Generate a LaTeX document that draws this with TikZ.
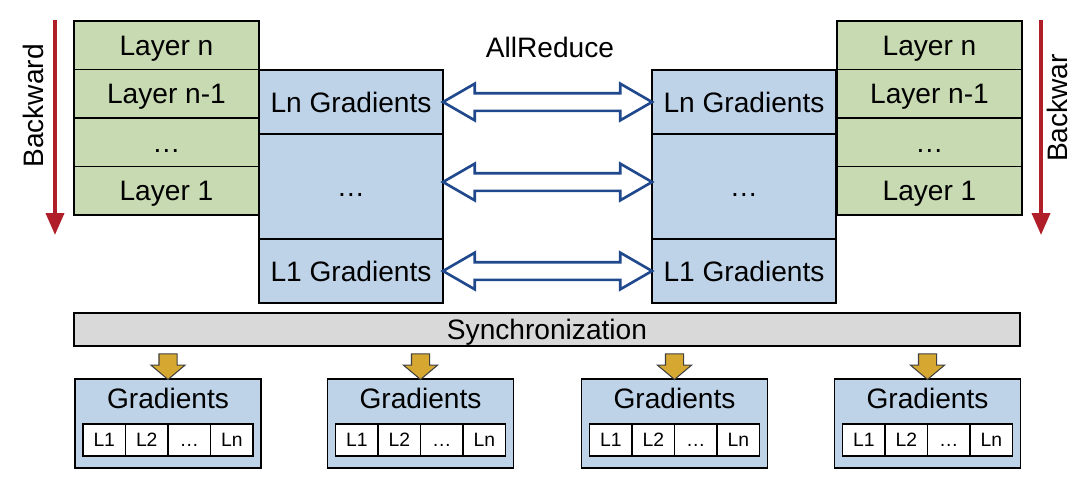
\documentclass[tikz,border=0pt]{standalone}
\usepackage{fontspec}
\setmainfont{Liberation Sans}
\usepackage{xcolor}
\usepackage{tikz}
\usetikzlibrary{shapes.arrows, arrows.meta, positioning, calc}
\definecolor{layergreen}{RGB}{200,218,178}
\definecolor{gradblue}{RGB}{190,211,232}
\definecolor{syncgray}{RGB}{217,217,217}
\definecolor{bwred}{RGB}{176,30,42}
\definecolor{arrowblue}{RGB}{31,73,140}
\definecolor{syncgold}{RGB}{214,168,50}
\tikzstyle{bigtext} = [font=\fontsize{16}{19}\selectfont, text height=11.4pt, text depth=0pt]
\tikzstyle{layer} = [rectangle, draw=black, fill=layergreen, line width=0.8pt, outer sep=0pt, inner sep=0pt, minimum width=3.7cm, minimum height=0.97cm, bigtext]
\tikzstyle{grad} = [rectangle, draw=black, fill=gradblue, line width=0.8pt, outer sep=0pt, inner sep=0pt, minimum width=3.68cm, bigtext]
\tikzstyle{gradbox} = [rectangle, draw=black, fill=gradblue, line width=0.8pt, outer sep=0pt, minimum width=3.72cm, minimum height=1.78cm]
\tikzstyle{cell} = [rectangle, draw=black, fill=white, line width=0.8pt, outer sep=0pt, inner sep=0pt, minimum width=0.85cm, minimum height=0.64cm, font=\fontsize{11}{13}\selectfont, text height=7.9pt, text depth=0pt]
\tikzstyle{syncbar} = [rectangle, draw=black, fill=syncgray, line width=0.8pt, minimum width=18.92cm, minimum height=0.66cm, inner sep=0pt, bigtext]
\tikzstyle{allred} = [double arrow, draw=arrowblue, fill=white, line width=1.5pt, inner sep=0.15cm, double arrow head extend=0.19cm, double arrow tip angle=60, minimum height=4.18cm]
\tikzstyle{syncarrow} = [single arrow, draw=black!75, fill=syncgold, line width=0.6pt, shape border rotate=270, inner sep=0.17cm, single arrow head extend=0.16cm, single arrow tip angle=100, minimum height=0.44cm]
\tikzstyle{bwarrow} = [bwred, line width=2.2pt, -{Triangle[length=0.44cm, width=0.36cm]}]

\begin{document}
\begin{tikzpicture}
\useasboundingbox (0,0) rectangle (21.6,-9.7);

% left worker
\node[layer, anchor=north west] (layernL) at (1.48,-0.42) {Layer n};
\node[layer, below=0pt of layernL] (layernmL) {Layer n-1};
\node[layer, below=0pt of layernmL] (layerdotsL) {…};
\node[layer, below=0pt of layerdotsL] (layeroneL) {Layer 1};

\node[grad, minimum height=1.28cm, anchor=north west] (lngradL) at (5.18,-1.40) {Ln Gradients};
\node[grad, minimum height=2.1cm, below=0pt of lngradL] (dotsgradL) {…};
\node[grad, minimum height=1.28cm, below=0pt of dotsgradL] (l1gradL) {L1 Gradients};

\coordinate (bwtopL) at (1.1,-0.4);
\coordinate (bwbotL) at (1.1,-4.7);
\draw[bwarrow] (bwtopL) -- (bwbotL);
\node[rotate=90, bigtext] (bwlabelL) at (0.66,-2.12) {Backward};

% right worker
\node[grad, minimum height=1.28cm, anchor=north west] (lngradR) at (13.04,-1.40) {Ln Gradients};
\node[grad, minimum height=2.1cm, below=0pt of lngradR] (dotsgradR) {…};
\node[grad, minimum height=1.28cm, below=0pt of dotsgradR] (l1gradR) {L1 Gradients};

\node[layer, anchor=north west] (layernR) at (16.74,-0.42) {Layer n};
\node[layer, below=0pt of layernR] (layernmR) {Layer n-1};
\node[layer, below=0pt of layernmR] (layerdotsR) {…};
\node[layer, below=0pt of layerdotsR] (layeroneR) {Layer 1};

\coordinate (bwtopR) at (20.82,-0.4);
\coordinate (bwbotR) at (20.82,-4.7);
\draw[bwarrow] (bwtopR) -- (bwbotR);
\node[rotate=90, bigtext] (bwlabelR) at (21.14,-2.16) {Backwar};

% allreduce
\node[bigtext] (allreduce) at (11.0,-0.94) {AllReduce};
\node[allred] (arrln) at ($(lngradL.east)!0.5!(lngradR.west)$) {};
\node[allred] (arrdots) at ($(dotsgradL.east)!0.5!(dotsgradR.west)+(0,0.09)$) {};
\node[allred] (arrl1) at ($(l1gradL.east)!0.5!(l1gradR.west)$) {};

% synchronization
\node[syncbar] (sync) at (10.94,-6.59) {Synchronization};

\foreach \i/\x in {1/3.36, 2/8.41, 3/13.49, 4/18.55} {
  \node[gradbox] (gbox\i) at (\x,-8.47) {};
  \node[bigtext] (gtitle\i) at ($(gbox\i.north)+(0,-0.38)$) {Gradients};
  \foreach \j/\t in {1/L1, 2/L2, 3/…, 4/Ln}
    \node[cell] (cell\i\j) at ($(gbox\i.center)+({(\j-2.5)*0.85},-0.33)$) {\t};
  \node[syncarrow] (sarrow\i) at ($(sync.south -| gbox\i.north)!0.5!(gbox\i.north)$) {};
}
\end{tikzpicture}
\end{document}
